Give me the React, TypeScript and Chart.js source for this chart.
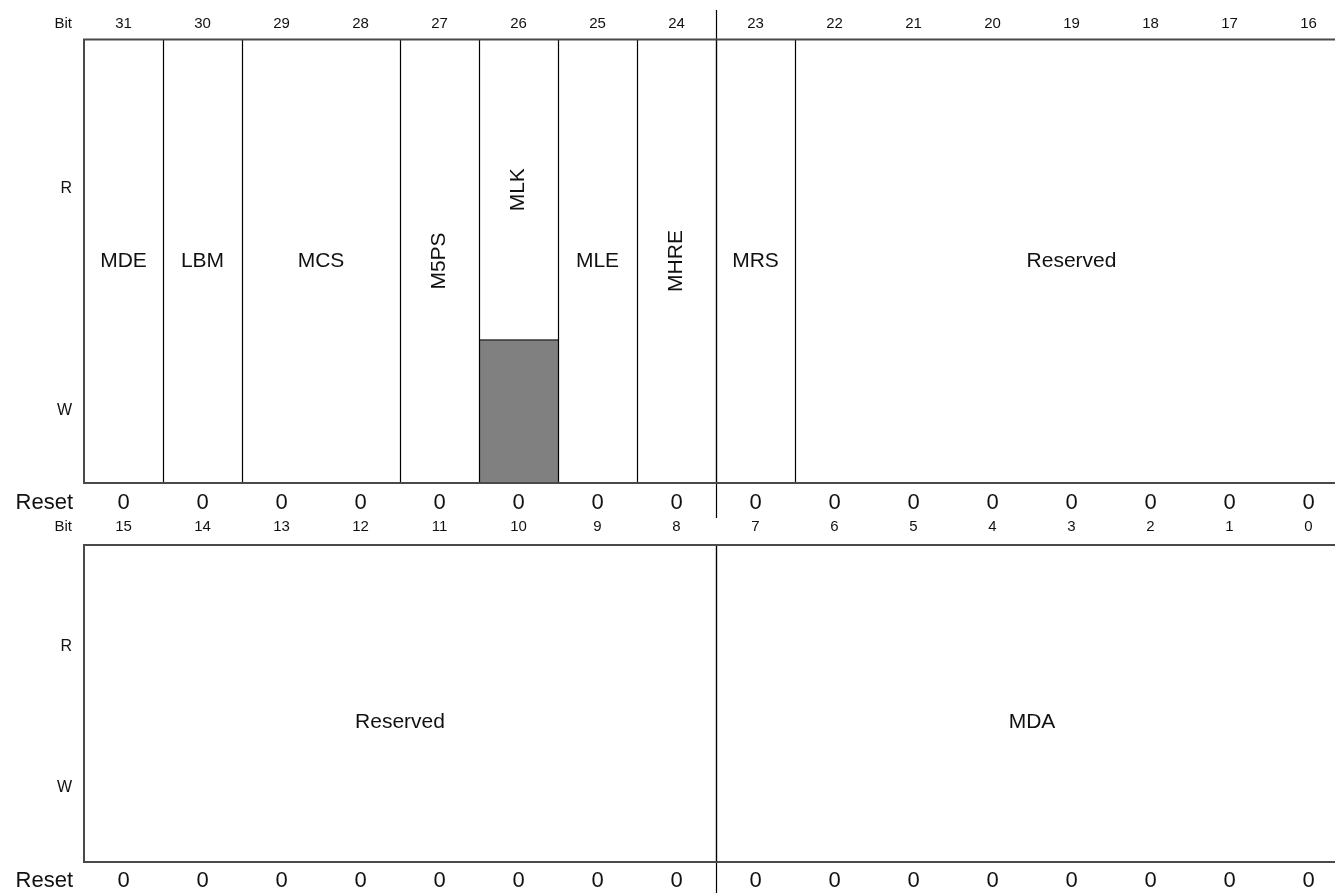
import React, { useEffect, useRef } from 'react';
import { Chart, registerables } from 'chart.js';

Chart.register(...registerables);

// ---------- data ----------
const topBits = [31, 30, 29, 28, 27, 26, 25, 24, 23, 22, 21, 20, 19, 18, 17, 16];
const bottomBits = [15, 14, 13, 12, 11, 10, 9, 8, 7, 6, 5, 4, 3, 2, 1, 0];

const topFieldNames = ['MDE', 'LBM', 'MCS', 'M5PS', 'MLK', 'MLE', 'MHRE', 'MRS', 'Reserved'];
const topFieldMsb = [31, 30, 29, 27, 26, 25, 24, 23, 22];
const topFieldLsb = [31, 30, 28, 27, 26, 25, 24, 23, 16];
const topFieldVertical = [false, false, false, true, true, false, true, false, false];
const topFieldNoWrite = [false, false, false, false, true, false, false, false, false];
const topReset = [0, 0, 0, 0, 0, 0, 0, 0, 0, 0, 0, 0, 0, 0, 0, 0];

const bottomFieldNames = ['Reserved', 'MDA'];
const bottomFieldMsb = [15, 7];
const bottomFieldLsb = [8, 0];
const bottomFieldVertical = [false, false];
const bottomFieldNoWrite = [false, false];
const bottomReset = [0, 0, 0, 0, 0, 0, 0, 0, 0, 0, 0, 0, 0, 0, 0, 0];

const rowLabels = ['Bit', 'R', 'W', 'Reset'];

// ---------- layout ----------
const CW = 1335;
const CH = 893;
const COL_LEFT = 84;
const COL_W = 79;
const X_MIN = -COL_LEFT / COL_W;
const X_MAX = (CW - COL_LEFT) / COL_W;
const BYTE_SPLIT_COL = 8;

const FONT = '"Liberation Sans", Arial, Helvetica, sans-serif';

const rows = [
  {
    bits: topBits, names: topFieldNames, msb: topFieldMsb, lsb: topFieldLsb,
    vertical: topFieldVertical, noWrite: topFieldNoWrite, reset: topReset,
    bitY: 24, boxTop: 39.5, split: 340, boxBottom: 483, resetY: 503,
    rY: 189, wY: 411, labelY: 261, divTop: 10, divBottom: 518,
  },
  {
    bits: bottomBits, names: bottomFieldNames, msb: bottomFieldMsb, lsb: bottomFieldLsb,
    vertical: bottomFieldVertical, noWrite: bottomFieldNoWrite, reset: bottomReset,
    bitY: 527, boxTop: 545, split: 714, boxBottom: 862, resetY: 881,
    rY: 647, wY: 788, labelY: 722, divTop: 545, divBottom: 893,
  },
];

const registerPlugin = {
  id: 'registerDiagram',
  beforeDraw(chart: any) {
    const ctx = chart.ctx as CanvasRenderingContext2D;
    ctx.save();
    ctx.fillStyle = '#ffffff';
    ctx.fillRect(0, 0, chart.width, chart.height);
    ctx.restore();
  },
  afterDraw(chart: any) {
    const ctx = chart.ctx as CanvasRenderingContext2D;
    const xs = chart.scales.x;
    const ys = chart.scales.y;
    const px = (v: number) => xs.getPixelForValue(v);
    const py = (v: number) => ys.getPixelForValue(v);

    ctx.save();
    rows.forEach((row) => {
      const top = py(row.boxTop);
      const bottom = py(row.boxBottom);
      const split = py(row.split);
      const left = px(0);
      const right = px(row.bits.length);
      const labelRight = left - 12;

      // gray (non-writable) areas
      row.names.forEach((_, i) => {
        if (!row.noWrite[i]) return;
        const x0 = px(row.bits.indexOf(row.msb[i]));
        const x1 = px(row.bits.indexOf(row.lsb[i]) + 1);
        ctx.fillStyle = '#808080';
        ctx.fillRect(x0, split, x1 - x0, bottom - split);
        ctx.strokeStyle = '#333333';
        ctx.lineWidth = 1.5;
        ctx.beginPath();
        ctx.moveTo(x0, split);
        ctx.lineTo(x1, split);
        ctx.stroke();
      });

      // field separators
      ctx.strokeStyle = '#000000';
      ctx.lineWidth = 1.2;
      row.names.forEach((_, i) => {
        const c = row.bits.indexOf(row.msb[i]);
        if (c === 0) return;
        const x = Math.round(px(c)) + 0.5;
        ctx.beginPath();
        ctx.moveTo(x, top);
        ctx.lineTo(x, bottom);
        ctx.stroke();
      });

      // byte divider
      const dx = Math.round(px(BYTE_SPLIT_COL)) + 0.5;
      ctx.beginPath();
      ctx.moveTo(dx, py(row.divTop));
      ctx.lineTo(dx, py(row.divBottom));
      ctx.stroke();

      // box outline
      ctx.strokeStyle = '#4a4a4a';
      ctx.lineWidth = 2;
      ctx.beginPath();
      ctx.moveTo(right, top);
      ctx.lineTo(left, top);
      ctx.lineTo(left, bottom);
      ctx.lineTo(right, bottom);
      ctx.stroke();

      // texts
      ctx.fillStyle = '#111111';
      ctx.textBaseline = 'middle';

      ctx.font = `15px ${FONT}`;
      ctx.textAlign = 'right';
      ctx.fillText(rowLabels[0], labelRight, py(row.bitY));
      ctx.textAlign = 'center';
      row.bits.forEach((b, c) => {
        ctx.fillText(String(b), px(c + 0.5), py(row.bitY));
      });

      ctx.font = `16px ${FONT}`;
      ctx.textAlign = 'right';
      ctx.fillText(rowLabels[1], labelRight, py(row.rY));
      ctx.fillText(rowLabels[2], labelRight, py(row.wY));

      ctx.font = `22px ${FONT}`;
      ctx.fillText(rowLabels[3], labelRight + 1, py(row.resetY));
      ctx.textAlign = 'center';
      row.reset.forEach((v, c) => {
        ctx.fillText(String(v), px(c + 0.5), py(row.resetY));
      });

      // field names
      ctx.font = `21px ${FONT}`;
      row.names.forEach((name, i) => {
        const c0 = row.bits.indexOf(row.msb[i]);
        const c1 = row.bits.indexOf(row.lsb[i]) + 1;
        const cx = px((c0 + c1) / 2);
        const cy = row.noWrite[i] ? (top + split) / 2 : py(row.labelY);
        if (row.vertical[i]) {
          ctx.save();
          ctx.translate(cx, cy);
          ctx.rotate(-Math.PI / 2);
          ctx.textAlign = 'center';
          ctx.fillText(name, 0, 0);
          ctx.restore();
        } else {
          ctx.textAlign = 'center';
          ctx.fillText(name, cx, cy);
        }
      });
    });
    ctx.restore();
  },
};

export default function App() {
  const canvasRef = useRef<HTMLCanvasElement | null>(null);

  useEffect(() => {
    document.body.style.margin = '0';
    document.body.style.overflow = 'hidden';
    const canvas = canvasRef.current;
    if (!canvas) return;
    const chart = new Chart(canvas, {
      type: 'scatter',
      data: { datasets: [] },
      options: {
        animation: false,
        responsive: false,
        devicePixelRatio: 1,
        layout: { padding: 0 },
        plugins: { legend: { display: false }, tooltip: { enabled: false }, title: { display: false } },
        events: [],
        scales: {
          x: { type: 'linear', min: X_MIN, max: X_MAX, display: false },
          y: { type: 'linear', min: 0, max: CH, reverse: true, display: false },
        },
      },
      plugins: [registerPlugin],
    } as any);
    return () => chart.destroy();
  }, []);

  return (
    <div style={{ width: CW, height: CH, background: '#fff' }}>
      <canvas ref={canvasRef} width={CW} height={CH} style={{ display: 'block', width: CW, height: CH }} />
    </div>
  );
}
